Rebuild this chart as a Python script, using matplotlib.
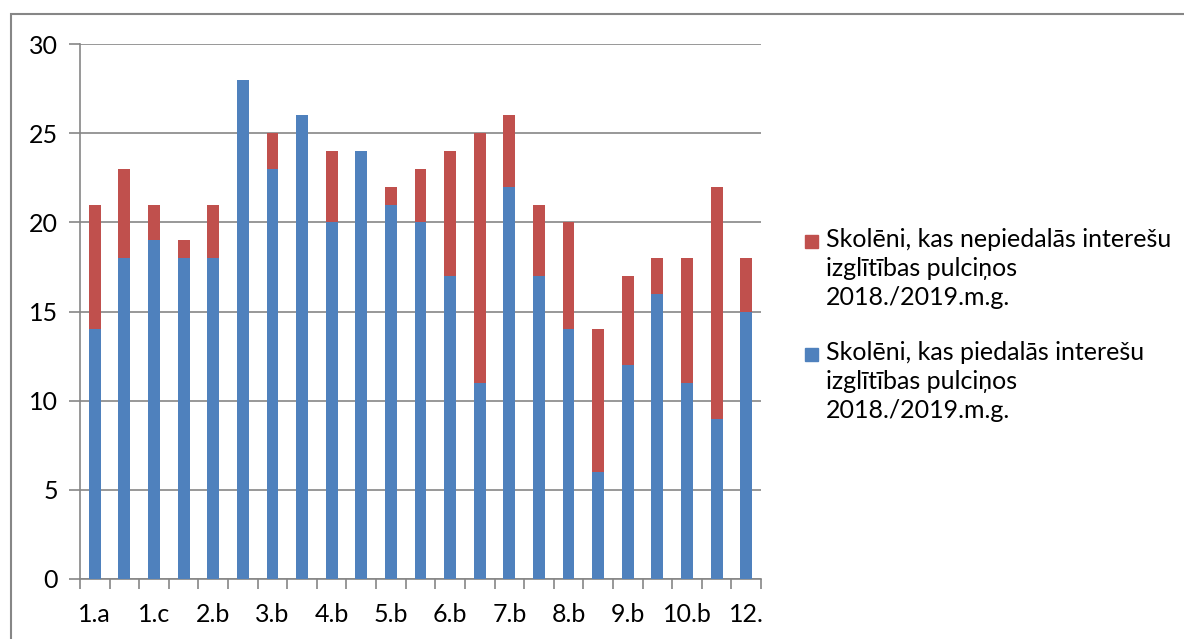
import matplotlib
matplotlib.use("Agg")
import matplotlib.pyplot as plt
from matplotlib.patches import Rectangle
import numpy as np

categories = ["1.a", "1.b", "1.c", "2.a", "2.b", "3.a", "3.b", "4.a", "4.b", "5.a",
              "5.b", "6.a", "6.b", "7.a", "7.b", "8.a", "8.b", "9.a", "9.b", "10.a",
              "10.b", "11.", "12."]
participating = [14, 18, 19, 18, 18, 28, 23, 26, 20, 24, 21, 20, 17, 11, 22, 17, 14, 6, 12, 16, 11, 9, 15]
not_participating = [7, 5, 2, 1, 3, 0, 2, 0, 4, 0, 1, 3, 7, 14, 4, 4, 6, 8, 5, 2, 7, 13, 3]
label_blue = "Skolēni, kas piedalās interešu\nizglītības pulciņos\n2018./2019.m.g."
label_red = "Skolēni, kas nepiedalās interešu\nizglītības pulciņos\n2018./2019.m.g."

plt.rcParams['font.family'] = ['Lato', 'DejaVu Sans']

blue = "#4F81BD"
red = "#C0504D"
grey = "#868686"
W, H = 1184, 639

fig = plt.figure(figsize=(W/100, H/100), dpi=100)
fig.patches.append(Rectangle((11/W, -0.1), 1.2, (H-14)/H + 0.1, transform=fig.transFigure,
                             fill=False, edgecolor=grey, linewidth=1.5))
ax = fig.add_axes([80/W, (H-579)/H, (761-80)/W, (579-44)/H])

x = np.arange(len(categories))
ax.bar(x, participating, width=0.4, color=blue, zorder=3)
ax.bar(x, not_participating, width=0.4, bottom=participating, color=red, zorder=3)

ax.set_xlim(-0.5, len(categories) - 0.5)
ax.set_ylim(0, 30)
ax.set_yticks(range(0, 31, 5))
ax.yaxis.grid(True, color=grey, linewidth=1.2, zorder=0)
for s in ["top", "right"]:
    ax.spines[s].set_visible(False)
for s in ["left", "bottom"]:
    ax.spines[s].set_color(grey)
    ax.spines[s].set_linewidth(1.2)

ax.set_xticks(np.arange(-0.5, len(categories), 1.0), minor=False)
ax.set_xticklabels([])
ax.tick_params(axis='x', which='major', length=7, color=grey, width=1.2)
ax.set_xticks(x[::2], minor=True)
ax.set_xticklabels(categories[::2], minor=True, fontsize=18)
ax.tick_params(axis='x', which='minor', length=0, pad=17)
ax.tick_params(axis='y', length=8, color=grey, width=1.2, labelsize=18, pad=8)

# legend (red entry first, as in the reference)
entries = [(red, label_red, 242), (blue, label_blue, 355)]
for color, label, yc in entries:
    fig.patches.append(Rectangle((805/W, 1 - (yc + 6.5)/H), 13/W, 13/H,
                                 transform=fig.transFigure, color=color))
    fig.text(826/W, 1 - (yc - 14)/H, label, fontsize=18, va='top', ha='left',
             linespacing=1.32)

fig.savefig("out.png", dpi=100)
